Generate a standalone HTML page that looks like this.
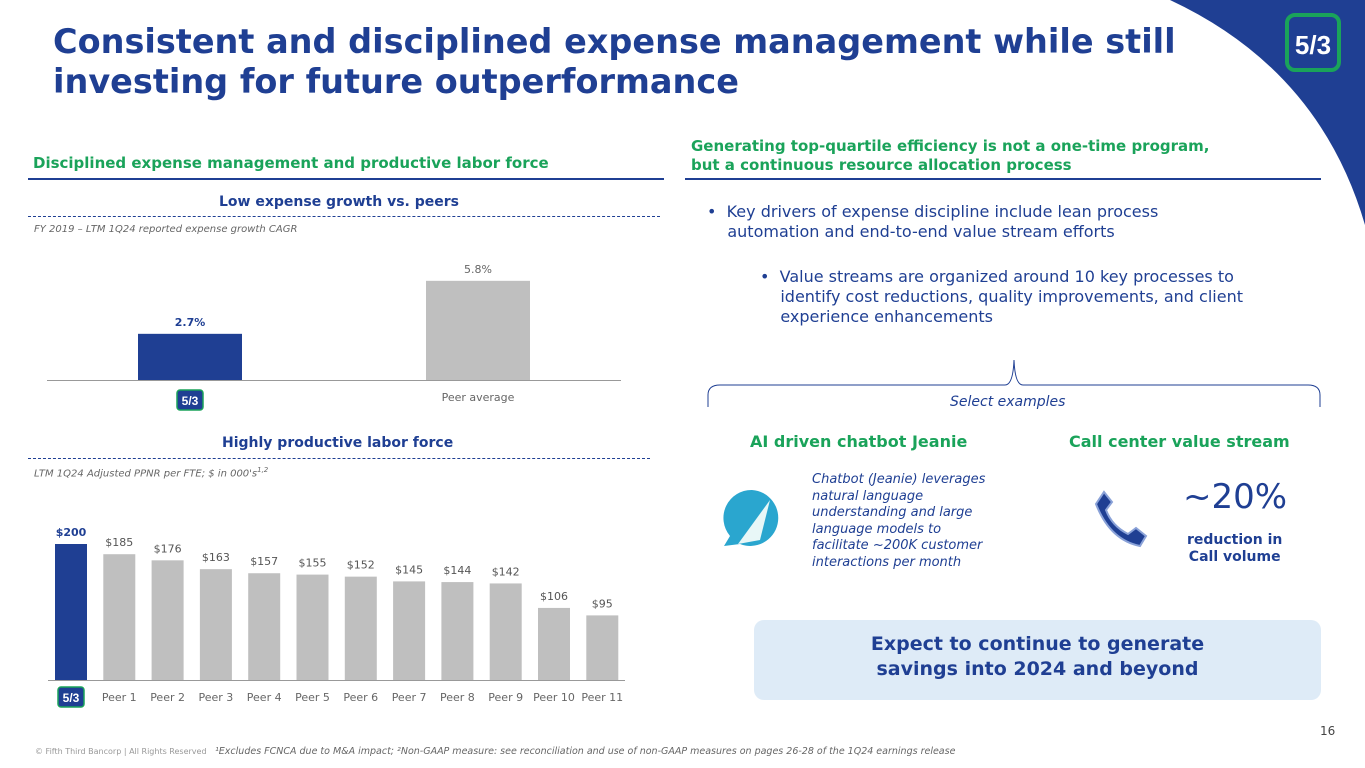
<!DOCTYPE html>
<html><head><meta charset="utf-8"><style>
body{margin:0;width:1365px;height:768px;overflow:hidden;background:#fff;font-family:"DejaVu Sans","Liberation Sans",sans-serif;position:relative}
.a{position:absolute;white-space:nowrap}
.blue{color:#1f3f93}.green{color:#1aa35a}
</style></head><body>
<svg class="a" style="left:0;top:0" width="1365" height="768">
<path d="M1170,0 Q1320,70 1365,225 L1365,0 Z" fill="#1f3f93"/>
<rect x="1287" y="15" width="52" height="55" rx="8" fill="#1f3f93" stroke="#1aa35a" stroke-width="4"/>
<text x="1313" y="54" font-size="26" font-weight="bold" fill="#fff" text-anchor="middle" font-family="Liberation Sans">5/3</text>
</svg>
<div class="a blue" style="left:53px;top:22px;font-size:33.5px;font-weight:bold;line-height:40px">Consistent and disciplined expense management while still<br>investing for future outperformance</div>

<div class="a green" style="left:33px;top:154px;font-size:15px;font-weight:bold">Disciplined expense management and productive labor force</div>
<div class="a" style="left:28px;top:178px;width:636px;height:2px;background:#1f3f93"></div>
<div class="a green" style="left:691px;top:137px;font-size:15px;font-weight:bold;line-height:19px">Generating top-quartile efficiency is not a one-time program,<br>but a continuous resource allocation process</div>
<div class="a" style="left:685px;top:178px;width:636px;height:2px;background:#1f3f93"></div>

<div class="a blue" style="left:219px;top:194px;font-size:14px;font-weight:bold">Low expense growth vs. peers</div>
<div class="a" style="left:28px;top:216px;width:632px;border-top:1px dashed #1f3f93"></div>
<div class="a" style="left:34px;top:224px;font-size:10px;font-style:italic;color:#666">FY 2019 – LTM 1Q24 reported expense growth CAGR</div>

<div class="a blue" style="left:222px;top:435px;font-size:14px;font-weight:bold">Highly productive labor force</div>
<div class="a" style="left:28px;top:458px;width:622px;border-top:1px dashed #1f3f93"></div>
<div class="a" style="left:34px;top:466px;font-size:10px;font-style:italic;color:#666">LTM 1Q24 Adjusted PPNR per FTE; $ in 000's<sup style="font-size:7px">1,2</sup></div>

<svg id="c1" class="a" style="left:0;top:0" width="700" height="768"></svg>

<div class="a" style="left:707px;top:202px;font-size:16px;color:#1f3f93;line-height:20px">•&nbsp;&nbsp;Key drivers of expense discipline include lean process<br>&nbsp;&nbsp;&nbsp;&nbsp;automation and end-to-end value stream efforts</div>
<div class="a" style="left:760px;top:267px;font-size:16px;color:#1f3f93;line-height:20px">•&nbsp;&nbsp;Value streams are organized around 10 key processes to<br>&nbsp;&nbsp;&nbsp;&nbsp;identify cost reductions, quality improvements, and client<br>&nbsp;&nbsp;&nbsp;&nbsp;experience enhancements</div>
<svg class="a" style="left:700px;top:355px" width="630" height="55"><path d="M8,52 L8,40 Q8,30 20,30 L305,30 Q313,30 314,5 Q315,30 323,30 L608,30 Q620,30 620,40 L620,52" fill="none" stroke="#1f3f93" stroke-width="1"/></svg>
<div class="a" style="left:950px;top:394px;font-size:14px;font-style:italic;color:#1f3f93">Select examples</div>
<div class="a green" style="left:750px;top:432px;font-size:16px;font-weight:bold">AI driven chatbot Jeanie</div>
<div class="a green" style="left:1069px;top:432px;font-size:16px;font-weight:bold">Call center value stream</div>
<svg class="a" style="left:720px;top:488px" width="72" height="60"><path d="M32,2 A28,28 0 1 1 20,56 L4,58 L10,48 A28,28 0 0 1 32,2Z" fill="#2aa6cf"/><path d="M50,12 L40,52 L18,56 Z" fill="#e8f7f7"/></svg>
<div class="a" style="left:812px;top:472px;font-size:13px;font-style:italic;color:#1f3f93;line-height:16.5px">Chatbot (Jeanie) leverages<br>natural language<br>understanding and large<br>language models to<br>facilitate ~200K customer<br>interactions per month</div>
<svg class="a" style="left:1090px;top:488px" width="60" height="62"><path d="M14,4 L22,14 L16,22 Q22,38 38,46 L46,40 L56,48 L50,58 Q20,52 6,16 Z" fill="#1f3f93" stroke="#8aa2d8" stroke-width="2"/></svg>
<div class="a blue" style="left:1183px;top:477px;font-size:34px">~20%</div>
<div class="a blue" style="left:1187px;top:532px;font-size:14px;font-weight:bold;line-height:17px;text-align:center">reduction in<br>Call volume</div>
<div class="a" style="left:754px;top:620px;width:567px;height:80px;background:#deebf7;border-radius:10px"></div>
<div class="a blue" style="left:754px;top:632px;width:567px;text-align:center;font-size:19px;font-weight:bold;line-height:25px;white-space:normal">Expect to continue to generate<br>savings into 2024 and beyond</div>
<div class="a" style="left:1320px;top:724px;font-size:12px;color:#444">16</div>
<div class="a" style="left:35px;top:747px;font-size:8px;color:#999">© Fifth Third Bancorp | All Rights Reserved</div>
<div class="a" style="left:215px;top:746px;font-size:9.5px;font-style:italic;color:#666">¹Excludes FCNCA due to M&amp;A impact; ²Non-GAAP measure: see reconciliation and use of non-GAAP measures on pages 26-28 of the 1Q24 earnings release</div>

<script>
const expCats=["Fifth Third","Peer average"];
const expVals=[2.7,5.8];
const ppnrCats=["Fifth Third","Peer 1","Peer 2","Peer 3","Peer 4","Peer 5","Peer 6","Peer 7","Peer 8","Peer 9","Peer 10","Peer 11"];
const ppnrVals=[200,185,176,163,157,155,152,145,144,142,106,95];
const NS="http://www.w3.org/2000/svg";
const svg=document.getElementById('c1');
function mk(t,a){const e=document.createElementNS(NS,t);for(const k in a)e.setAttribute(k,a[k]);svg.appendChild(e);return e;}
function logo(cx,cy){const r=mk('rect',{x:cx-13,y:cy-10,width:26,height:20,rx:3,fill:'#1f3f93',stroke:'#1aa35a','stroke-width':1.5});


const t=mk('text',{x:cx,y:cy+5,'font-size':12,'font-weight':'bold',fill:'#fff','text-anchor':'middle','font-family':'Liberation Sans'});t.textContent='5/3';}
const y1=v=>380-v*17.1, x1=i=>190+i*288;
mk('line',{x1:47,x2:621,y1:380.5,y2:380.5,stroke:'#999'});
expVals.forEach((v,i)=>{
 const b=mk('rect',{x:x1(i)-52,y:y1(v),width:104,height:380-y1(v),fill:i==0?'#1f3f93':'#bfbfbf'});
 
 
 const t=mk('text',{x:x1(i),y:y1(v)-8,'font-size':11,'text-anchor':'middle',fill:i==0?'#1f3f93':'#666','font-weight':i==0?'bold':'normal'});t.textContent=v.toFixed(1)+'%';
 if(i==0)logo(x1(i),400);else{const l=mk('text',{x:x1(i),y:401,'font-size':11,'text-anchor':'middle',fill:'#666'});l.textContent=expCats[i];}
});
const y2=v=>680-v*0.68, x2=i=>71+i*48.3;
mk('line',{x1:48,x2:625,y1:680.5,y2:680.5,stroke:'#999'});
ppnrVals.forEach((v,i)=>{
 const b=mk('rect',{x:x2(i)-16,y:y2(v),width:32,height:680-y2(v),fill:i==0?'#1f3f93':'#bfbfbf'});
 
 
 const t=mk('text',{x:x2(i),y:y2(v)-8,'font-size':11,'text-anchor':'middle',fill:i==0?'#1f3f93':'#555','font-weight':i==0?'bold':'normal'});t.textContent='$'+v;
 if(i==0)logo(x2(i),697);else{const l=mk('text',{x:x2(i),y:701,'font-size':11,'text-anchor':'middle',fill:'#666'});l.textContent=ppnrCats[i];}
});
</script>
</body></html>
